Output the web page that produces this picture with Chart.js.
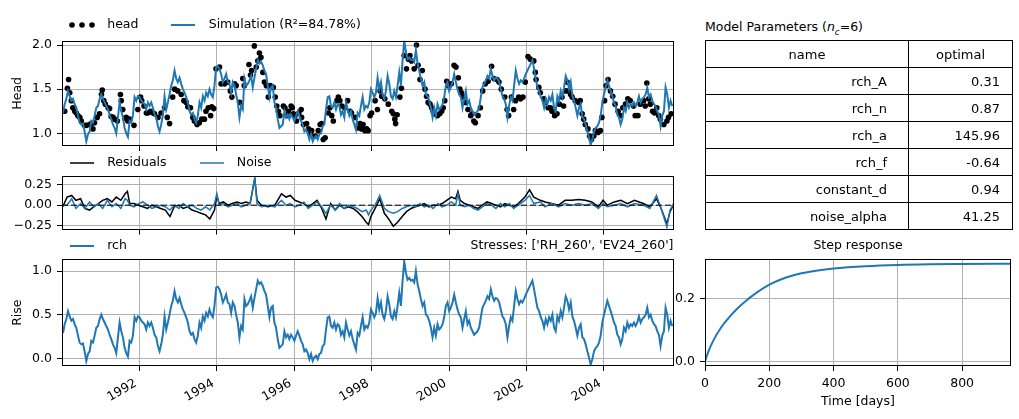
<!DOCTYPE html>
<html>
<head>
<meta charset="utf-8">
<script src="https://cdn.jsdelivr.net/npm/chart.js@4.4.1/dist/chart.umd.min.js"></script>
<style>
    body { margin: 0; background: #fff; }
    #fig { position: relative; width: 1019px; height: 419px; overflow: hidden; font-family: 'DejaVu Sans', sans-serif; color: #000; }
    #fig canvas { position: absolute; }
    #paramTitle { position: absolute; left: 705px; top: 19px; font-size: 12.5px; line-height: 16px; white-space: nowrap; }
    #paramTitle sub { font-size: 70%; line-height: 0; }
    #paramTable { position: absolute; left: 705px; top: 40px; width: 307px; border-collapse: collapse; table-layout: fixed; font-size: 13px; }
    #paramTable td { border: 1px solid #000; height: 26px; padding: 0; text-align: right; }
    #paramTable td.c1 { padding-right: 21px; }
    #paramTable td.c2 { padding-right: 12px; }
    #paramTable tr.hdr td { text-align: center; padding-right: 0; }
</style>
</head>
<body>
<div id="fig">
    <canvas id="headChart" width="700" height="165" style="left:0;top:0"></canvas>
    <canvas id="resChart" width="700" height="105" style="left:0;top:140px"></canvas>
    <canvas id="rchChart" width="700" height="194" style="left:0;top:225px"></canvas>
    <canvas id="stepChart" width="364" height="194" style="left:655px;top:225px"></canvas>
    <div id="paramTitle">Model Parameters (<i>n</i><sub><i>c</i></sub>=6)</div>
    <table id="paramTable">
        <colgroup><col style="width:203px"><col style="width:104px"></colgroup>
        <tbody id="paramBody"></tbody>
    </table>
</div>
<script>
// ---- data ----
const xMin = 1990.0;
const xMax = 2005.8;
const yearTicks = [1992, 1994, 1996, 1998, 2000, 2002, 2004];

// observed heads
const headYears = [
    1990.07, 1990.14, 1990.17, 1990.20, 1990.24, 1990.28, 1990.33, 1990.37, 1990.41, 1990.46,
    1990.50, 1990.58, 1990.63, 1990.71, 1990.76, 1990.80, 1990.84, 1990.91, 1990.97, 1991.02,
    1991.04, 1991.08, 1991.12, 1991.19, 1991.23, 1991.27, 1991.32, 1991.36, 1991.43, 1991.51,
    1991.53, 1991.57, 1991.62, 1991.66, 1991.70, 1991.75, 1991.86, 1991.96, 1992.03, 1992.06,
    1992.12, 1992.18, 1992.22, 1992.29, 1992.35, 1992.39, 1992.48, 1992.56, 1992.65, 1992.72,
    1992.78, 1992.86, 1992.91, 1992.99, 1993.08, 1993.15, 1993.21, 1993.25, 1993.32, 1993.38,
    1993.42, 1993.49, 1993.55, 1993.61, 1993.68, 1993.72, 1993.78, 1993.84, 1993.87, 1993.92,
    1993.98, 1994.07, 1994.11, 1994.20, 1994.28, 1994.35, 1994.39, 1994.46, 1994.50, 1994.59,
    1994.67, 1994.71, 1994.83, 1994.87, 1994.90, 1994.97, 1995.02, 1995.06, 1995.10, 1995.14,
    1995.19, 1995.23, 1995.28,
    1995.33, 1995.38, 1995.46, 1995.51, 1995.55, 1995.59, 1995.63, 1995.72, 1995.76, 1995.81,
    1995.85, 1995.92, 1995.95, 1995.98, 1996.02, 1996.06, 1996.12, 1996.18, 1996.19, 1996.24,
    1996.32, 1996.37, 1996.41, 1996.45, 1996.54, 1996.62, 1996.67, 1996.71, 1996.75, 1996.80,
    1996.88, 1996.92, 1996.97, 1997.01, 1997.10, 1997.14, 1997.18, 1997.23, 1997.31, 1997.38,
    1997.44, 1997.48, 1997.57, 1997.66, 1997.70, 1997.74, 1997.78, 1997.83, 1997.87, 1997.91,
    1997.96, 1998.00, 1998.09, 1998.15, 1998.22, 1998.26, 1998.34, 1998.43, 1998.52, 1998.56,
    1998.60, 1998.62, 1998.66, 1998.73, 1998.77, 1998.84, 1998.90, 1998.95, 1998.99, 1999.03,
    1999.10, 1999.16, 1999.20, 1999.25, 1999.31, 1999.38, 1999.42, 1999.46, 1999.51, 1999.55,
    1999.59, 1999.63, 1999.70, 1999.76, 1999.81, 1999.85, 1999.89, 1999.94, 1999.98, 2000.06,
    2000.13, 2000.18, 2000.24, 2000.28, 2000.32, 2000.37, 2000.43, 2000.49, 2000.56,
    2000.60, 2000.64, 2000.68, 2000.75, 2000.81, 2000.87, 2000.94, 2001.01, 2001.10, 2001.16,
    2001.24, 2001.29, 2001.35, 2001.44, 2001.50, 2001.54, 2001.61, 2001.67, 2001.72, 2001.80,
    2001.85, 2001.91, 2001.97, 2002.04, 2002.10, 2002.19, 2002.23, 2002.25, 2002.32, 2002.36,
    2002.45, 2002.49, 2002.56, 2002.62, 2002.66, 2002.73, 2002.79, 2002.85, 2002.92, 2002.96,
    2003.01, 2003.05, 2003.09, 2003.14, 2003.18, 2003.26, 2003.35, 2003.39, 2003.44, 2003.48,
    2003.52, 2003.59, 2003.63, 2003.68, 2003.74, 2003.78, 2003.85, 2003.91, 2003.95, 2004.02,
    2004.06, 2004.11, 2004.17, 2004.23, 2004.29, 2004.37, 2004.43, 2004.49, 2004.56, 2004.62,
    2004.68, 2004.77, 2004.81, 2004.88, 2004.94, 2005.03, 2005.07, 2005.11, 2005.16, 2005.20,
    2005.26, 2005.31, 2005.37, 2005.42, 2005.46, 2005.55, 2005.63, 2005.67, 2005.74, 2005.78
];
const headValues = [
    1.25, 1.51, 1.61, 1.46, 1.37, 1.29, 1.25, 1.23, 1.20, 1.18,
    1.14, 1.09, 1.09, 1.10, 1.11, 1.05, 1.12, 1.18, 1.22, 1.44,
    1.49, 1.37, 1.33, 1.29, 1.28, 1.19, 1.18, 1.16, 1.14, 1.44,
    1.37, 1.27, 1.17, 1.18, 1.14, 1.16, 1.09, 1.27, 1.41, 1.37,
    1.31, 1.23, 1.23, 1.25, 1.23, 1.22, 1.18, 1.23, 1.29, 1.18,
    1.11, 1.41, 1.50, 1.48, 1.44, 1.37, 1.35, 1.30, 1.29, 1.18,
    1.14, 1.10, 1.12, 1.16, 1.16, 1.25, 1.29, 1.20, 1.30, 1.28,
    1.73, 1.75, 1.56, 1.56, 1.58, 1.48, 1.41, 1.56, 1.54, 1.35,
    1.62, 1.54, 1.78, 1.66, 1.71, 1.99, 1.75, 1.82, 1.91, 1.86,
    1.69, 1.58, 1.54,
    1.41, 1.54, 1.52, 1.41, 1.31, 1.25, 1.20, 1.31, 1.29, 1.20,
    1.25, 1.31, 1.29, 1.22, 1.20, 1.14, 1.23, 1.27, 1.18, 1.10,
    1.11, 1.05, 0.99, 1.03, 0.97, 1.03, 1.10, 1.11, 0.93, 0.95,
    1.23, 1.29, 1.20, 1.14, 1.37, 1.41, 1.37, 1.31, 1.29, 1.37,
    1.25, 1.23, 1.18, 1.06, 1.11, 1.05, 1.10, 1.03, 1.05, 1.03,
    1.20, 1.23, 1.37, 1.27, 1.48, 1.42, 1.39, 1.33, 1.25, 1.22,
    1.16, 1.11, 1.21, 1.41, 1.51, 1.88, 1.73, 1.84, 1.88, 1.82,
    1.73, 2.00, 1.77, 1.61, 1.71, 1.50, 1.42, 1.35, 1.33, 1.29,
    1.25, 1.22, 1.20, 1.22, 1.25, 1.29, 1.37, 1.59, 1.54, 1.56,
    1.77, 1.75, 1.63, 1.50, 1.46, 1.41, 1.35, 1.27, 1.20,
    1.22, 1.14, 1.12, 1.20, 1.29, 1.48, 1.56, 1.59, 1.76, 1.62,
    1.61, 1.58, 1.50, 1.41, 1.27, 1.20, 1.41, 1.27, 1.37, 1.41,
    1.39, 1.41, 1.58, 1.87, 1.84, 1.82, 1.69, 1.61, 1.52, 1.46,
    1.39, 1.35, 1.29, 1.29, 1.25, 1.20, 1.22, 1.33, 1.41, 1.31,
    1.48, 1.58, 1.48, 1.44, 1.41, 1.37, 1.35, 1.37, 1.22, 1.16,
    1.10, 1.05, 0.97, 0.93, 0.97, 1.03, 1.01, 1.03, 1.18, 1.37,
    1.54, 1.61, 1.48, 1.42, 1.33, 1.25, 1.20, 1.29, 1.33, 1.39,
    1.37, 1.31, 1.20, 1.20, 1.33, 1.37, 1.31, 1.57, 1.39, 1.33,
    1.25, 1.23, 1.29, 1.20, 1.16, 1.10, 1.14, 1.18, 1.22
];

// simulated series share one regular time index (about 15.7 days)
const simStart = 1990.026;
const simStep = 0.04301;

const simValues = [
    1.23, 1.33, 1.39, 1.48, 1.42, 1.37, 1.39, 1.33, 1.29, 1.20,
    1.12, 1.10, 1.11, 1.02, 0.91, 0.99, 1.02, 1.14, 1.12, 1.20,
    1.29, 1.31, 1.39, 1.44, 1.39, 1.35, 1.31, 1.27, 1.21, 1.16,
    1.10, 1.06, 1.00, 1.18, 1.35, 1.25, 1.18, 1.06, 1.00, 0.96,
    1.14, 1.12, 1.20, 1.41, 1.37, 1.42, 1.41, 1.37, 1.35, 1.33,
    1.27, 1.35, 1.31, 1.35, 1.29, 1.21, 1.18, 1.08, 1.02, 1.10,
    1.21, 1.42, 1.27, 1.35, 1.44, 1.54, 1.60, 1.71, 1.62, 1.58,
    1.63, 1.56, 1.50, 1.46, 1.41, 1.35, 1.25, 1.21, 1.23, 1.16,
    1.12, 1.20, 1.35, 1.29, 1.42, 1.37, 1.46, 1.42, 1.50, 1.44,
    1.41, 1.54, 1.75, 1.76, 1.73, 1.67, 1.58, 1.62, 1.67, 1.58,
    1.56, 1.46, 1.58, 1.54, 1.44, 1.35, 1.18, 1.31, 1.27, 1.62,
    1.54, 1.56, 1.60, 1.65, 1.52, 1.63, 1.73, 1.83, 1.79, 1.81,
    1.77, 1.71, 1.67, 1.54, 1.41, 1.52, 1.54, 1.35, 1.29, 1.16,
    1.06, 1.08, 1.10, 1.25, 1.18, 1.21, 1.16, 1.21, 1.18, 1.14,
    1.20, 1.25, 1.20, 1.14, 1.10, 1.02, 1.04, 1.00, 0.93, 0.99,
    0.91, 0.95, 0.97, 0.93, 0.99, 1.00, 1.08, 1.10, 1.27, 1.41,
    1.42, 1.31, 1.29, 1.35, 1.27, 1.33, 1.31, 1.21, 1.25, 1.18,
    1.35, 1.27, 1.20, 1.25, 1.16, 1.10, 1.04, 1.23, 1.20, 1.31,
    1.41, 1.27, 1.31, 1.29, 1.35, 1.50, 1.46, 1.41, 1.46, 1.63,
    1.50, 1.58, 1.44, 1.39, 1.48, 1.65, 1.56, 1.42, 1.39, 1.48,
    1.41, 1.54, 1.69, 1.54, 1.83, 2.05, 1.92, 1.84, 1.86, 1.83,
    1.84, 1.81, 1.94, 1.79, 1.71, 1.62, 1.54, 1.58, 1.44, 1.42,
    1.37, 1.29, 1.18, 1.29, 1.20, 1.33, 1.27, 1.29, 1.33, 1.41,
    1.54, 1.58, 1.48, 1.52, 1.58, 1.67, 1.58, 1.50, 1.44, 1.41,
    1.29, 1.39,
    1.48, 1.33, 1.37, 1.29, 1.25, 1.21, 1.23, 1.25, 1.29, 1.41,
    1.52, 1.56, 1.60, 1.65, 1.62, 1.73, 1.65, 1.60, 1.63, 1.62,
    1.58, 1.50, 1.42, 1.39, 1.33, 1.18, 1.31, 1.41, 1.37, 1.54,
    1.71, 1.62, 1.56, 1.60, 1.58, 1.62, 1.67, 1.71, 1.75, 1.79,
    1.83, 1.73, 1.62, 1.52, 1.48, 1.41, 1.37, 1.29, 1.39, 1.33,
    1.41, 1.37, 1.44, 1.29, 1.25, 1.42, 1.37, 1.48, 1.41, 1.52,
    1.65, 1.60, 1.50, 1.58, 1.42, 1.37, 1.29, 1.20, 1.29, 1.33,
    1.18, 1.16, 1.10, 1.02, 0.95, 0.87, 0.93, 1.02, 1.06, 1.08,
    1.12, 1.20, 1.35, 1.44, 1.52, 1.60, 1.54, 1.48, 1.42, 1.35,
    1.31, 1.21, 1.18, 1.10, 1.16, 1.29, 1.25, 1.35, 1.29, 1.33,
    1.31, 1.35, 1.31, 1.35, 1.42, 1.35, 1.39, 1.41, 1.44, 1.52,
    1.41, 1.44, 1.37, 1.33, 1.31, 1.25, 1.21, 1.08, 1.20, 1.25,
    1.52, 1.44, 1.29, 1.37, 1.31
];

// recharge contribution (Rise)
const rchValues = [
    0.29, 0.39, 0.45, 0.54, 0.48, 0.43, 0.45, 0.39, 0.35, 0.26,
    0.18, 0.16, 0.17, 0.08, -0.03, 0.05, 0.08, 0.20, 0.18, 0.26,
    0.35, 0.37, 0.45, 0.50, 0.45, 0.41, 0.37, 0.33, 0.27, 0.22,
    0.16, 0.12, 0.06, 0.24, 0.41, 0.31, 0.24, 0.12, 0.06, 0.02,
    0.20, 0.18, 0.26, 0.47, 0.43, 0.48, 0.47, 0.43, 0.41, 0.39,
    0.33, 0.41, 0.37, 0.41, 0.35, 0.27, 0.24, 0.14, 0.08, 0.16,
    0.27, 0.48, 0.33, 0.41, 0.50, 0.60, 0.66, 0.77, 0.68, 0.64,
    0.69, 0.62, 0.56, 0.52, 0.47, 0.41, 0.31, 0.27, 0.29, 0.22,
    0.18, 0.26, 0.41, 0.35, 0.48, 0.43, 0.52, 0.48, 0.56, 0.50,
    0.47, 0.60, 0.81, 0.82, 0.79, 0.73, 0.64, 0.68, 0.73, 0.64,
    0.62, 0.52, 0.64, 0.60, 0.50, 0.41, 0.24, 0.37, 0.33, 0.68,
    0.60, 0.62, 0.66, 0.71, 0.58, 0.69, 0.79, 0.89, 0.85, 0.87,
    0.83, 0.77, 0.73, 0.60, 0.47, 0.58, 0.60, 0.41, 0.35, 0.22,
    0.12, 0.14, 0.16, 0.31, 0.24, 0.27, 0.22, 0.27, 0.24, 0.20,
    0.26, 0.31, 0.26, 0.20, 0.16, 0.08, 0.10, 0.06, -0.01, 0.05,
    -0.03, 0.01, 0.03, -0.01, 0.05, 0.06, 0.14, 0.16, 0.33, 0.47,
    0.48, 0.37, 0.35, 0.41, 0.33, 0.39, 0.37, 0.27, 0.31, 0.24,
    0.41, 0.33, 0.26, 0.31, 0.22, 0.16, 0.10, 0.29, 0.26, 0.37,
    0.47, 0.33, 0.37, 0.35, 0.41, 0.56, 0.52, 0.47, 0.52, 0.69,
    0.56, 0.64, 0.50, 0.45, 0.54, 0.71, 0.62, 0.48, 0.45, 0.54,
    0.47, 0.60, 0.75, 0.60, 0.89, 1.11, 0.98, 0.90, 0.92, 0.89,
    0.90, 0.87, 1.00, 0.85, 0.77, 0.68, 0.60, 0.64, 0.50, 0.48,
    0.43, 0.35, 0.24, 0.35, 0.26, 0.39, 0.33, 0.35, 0.39, 0.47,
    0.60, 0.64, 0.54, 0.58, 0.64, 0.73, 0.64, 0.56, 0.50, 0.47,
    0.35, 0.45,
    0.54, 0.39, 0.43, 0.35, 0.31, 0.27, 0.29, 0.31, 0.35, 0.47,
    0.58, 0.62, 0.66, 0.71, 0.68, 0.79, 0.71, 0.66, 0.69, 0.68,
    0.64, 0.56, 0.48, 0.45, 0.39, 0.24, 0.37, 0.47, 0.43, 0.60,
    0.77, 0.68, 0.62, 0.66, 0.64, 0.68, 0.73, 0.77, 0.81, 0.85,
    0.89, 0.79, 0.68, 0.58, 0.54, 0.47, 0.43, 0.35, 0.45, 0.39,
    0.47, 0.43, 0.50, 0.35, 0.31, 0.48, 0.43, 0.54, 0.47, 0.58,
    0.71, 0.66, 0.56, 0.64, 0.48, 0.43, 0.35, 0.26, 0.35, 0.39,
    0.24, 0.22, 0.16, 0.08, 0.01, -0.07, -0.01, 0.08, 0.12, 0.14,
    0.18, 0.26, 0.41, 0.50, 0.58, 0.66, 0.60, 0.54, 0.48, 0.41,
    0.37, 0.27, 0.24, 0.16, 0.22, 0.35, 0.31, 0.41, 0.35, 0.39,
    0.37, 0.41, 0.37, 0.41, 0.48, 0.41, 0.45, 0.47, 0.50, 0.58,
    0.47, 0.50, 0.43, 0.39, 0.37, 0.31, 0.27, 0.14, 0.26, 0.31,
    0.58, 0.50, 0.35, 0.43, 0.37
];

// residuals and noise
const resYears = [
    1990.02, 1990.13, 1990.25, 1990.36, 1990.48, 1990.59, 1990.71, 1990.82, 1990.94, 1991.05,
    1991.17, 1991.29, 1991.40, 1991.52, 1991.63, 1991.69, 1991.75, 1991.86, 1991.98, 1992.09,
    1992.21, 1992.32, 1992.44, 1992.55, 1992.67, 1992.79, 1992.90, 1993.02, 1993.13, 1993.25,
    1993.36, 1993.48, 1993.59, 1993.71, 1993.82, 1993.94, 1994.00, 1994.06, 1994.17, 1994.29,
    1994.40, 1994.52, 1994.63, 1994.75, 1994.86, 1994.98, 1995.04, 1995.15, 1995.32, 1995.50,
    1995.67, 1995.79, 1995.90, 1996.02, 1996.13, 1996.25, 1996.36, 1996.48, 1996.59, 1996.71,
    1996.82, 1996.94, 1997.06, 1997.17, 1997.29, 1997.40, 1997.52, 1997.63, 1997.75, 1997.86,
    1997.92, 1997.98, 1998.09, 1998.21, 1998.33, 1998.44, 1998.56, 1998.67, 1998.79, 1998.90,
    1999.02, 1999.13, 1999.25, 1999.36, 1999.48, 1999.59, 1999.71, 1999.82, 1999.94, 2000.06,
    2000.17, 2000.23, 2000.29, 2000.40, 2000.52, 2000.63, 2000.75, 2000.86, 2000.98, 2001.10,
    2001.21, 2001.33, 2001.44, 2001.56, 2001.67, 2001.79, 2001.96, 2002.08, 2002.19, 2002.36,
    2002.48, 2002.65, 2002.83, 2003.00, 2003.17, 2003.35, 2003.52, 2003.69, 2003.86, 2003.98,
    2004.09, 2004.27, 2004.44, 2004.61, 2004.79, 2005.02, 2005.19, 2005.36, 2005.48, 2005.63,
    2005.71, 2005.80
];
const residualValues = [
    -0.02, 0.10, 0.12, 0.06, 0.08, -0.04, -0.06, -0.02, 0.02, 0.06,
    0.08, 0.04, 0.10, 0.06, 0.14, 0.17, 0.02, 0.02, 0.00, -0.02,
    -0.04, 0.00, -0.02, -0.04, -0.06, -0.14, -0.02, 0.00, -0.04, -0.02,
    -0.06, -0.08, -0.10, -0.12, -0.17, -0.06, 0.12, 0.02, 0.04, 0.00,
    0.02, 0.04, 0.02, 0.04, 0.02, 0.33, 0.06, 0.00, -0.02, 0.00,
    0.14, 0.10, 0.12, 0.06, 0.04, 0.02, -0.02, 0.02, 0.06, -0.04,
    -0.17, 0.02, -0.06, 0.00, -0.04, -0.02, -0.04, -0.08, -0.14, -0.21,
    -0.24, -0.14, -0.04, 0.08, -0.10, -0.17, -0.26, -0.21, -0.14, -0.08,
    -0.04, -0.02, 0.00, 0.02, -0.02, 0.00, 0.00, 0.02, 0.06, 0.10,
    0.08, 0.17, 0.06, 0.02, 0.00, -0.02, -0.04, 0.00, 0.04, 0.02,
    0.00, -0.02, 0.02, 0.00, -0.02, 0.02, 0.10, 0.19, 0.10, 0.06,
    0.04, 0.02, 0.00, 0.06, 0.06, 0.07, 0.06, 0.04, -0.02, 0.06,
    0.00, 0.04, 0.06, 0.02, 0.06, 0.02, -0.02, 0.08, -0.04, -0.23,
    -0.08, 0.00
];
const noiseValues = [
    0.00, 0.00, 0.08, -0.04, 0.02, -0.04, 0.04, -0.02, 0.02, -0.04,
    0.06, -0.02, 0.02, -0.04, 0.08, 0.06, 0.00, -0.02, 0.02, 0.04,
    0.00, -0.04, -0.02, 0.00, -0.02, -0.06, 0.00, -0.04, 0.02, -0.02,
    0.00, -0.04, -0.06, -0.02, -0.06, 0.02, 0.14, 0.00, 0.02, -0.02,
    0.00, 0.02, -0.02, 0.00, 0.02, 0.33, 0.02, -0.02, 0.00, -0.02,
    0.06, 0.00, 0.02, -0.02, 0.00, 0.04, -0.04, 0.00, 0.04, -0.02,
    -0.10, 0.00, -0.06, 0.02, -0.04, 0.00, -0.02, -0.04, -0.08, -0.06,
    -0.12, -0.06, 0.00, 0.12, -0.04, -0.08, -0.10, -0.08, -0.04, -0.02,
    0.00, -0.02, 0.02, -0.02, 0.00, -0.04, 0.02, -0.02, 0.00, 0.04,
    0.00, 0.14, 0.00, -0.02, 0.00, -0.04, -0.06, -0.02, 0.02, 0.00,
    -0.04, 0.02, -0.02, 0.02, -0.04, 0.00, 0.06, 0.12, 0.02, 0.04,
    -0.02, 0.02, -0.02, 0.02, 0.00, 0.02, 0.00, 0.02, -0.04, 0.02,
    -0.02, 0.00, 0.02, -0.02, 0.02, 0.00, -0.04, 0.12, -0.04, -0.27,
    -0.06, 0.02
];

// step response of rch
const stepDays = [0, 10, 25, 50, 75, 100, 125, 150, 200, 250, 300, 350, 400, 500, 600, 700, 800, 952];
const stepValues = [0, 0.031, 0.065, 0.108, 0.14, 0.167, 0.19, 0.21, 0.243, 0.265, 0.279, 0.288, 0.294, 0.301, 0.305, 0.307, 0.308, 0.309];

// parameter table
const paramNames = ['rch_A', 'rch_n', 'rch_a', 'rch_f', 'constant_d', 'noise_alpha'];
const paramOptimal = ['0.31', '0.87', '145.96', '-0.64', '0.94', '41.25'];

// ---- styling ----
const BLUE = '#1f77b4';
const GRID = '#b0b0b0';
const FONT = 12.5;

Chart.defaults.font.family = "'DejaVu Sans', sans-serif";
Chart.defaults.font.size = FONT;
Chart.defaults.color = '#000';
Chart.defaults.animation = false;
Chart.defaults.responsive = false;
Chart.defaults.events = [];
Chart.defaults.plugins.tooltip.enabled = false;

const gridOpts = { color: GRID, lineWidth: 1, tickColor: '#000', tickLength: 5, tickWidth: 1 };

function xy(xs, ys) {
    return xs.map((x, i) => ({ x: x, y: ys[i] }));
}

function fmtTick(v, decimals) {
    return (v < 0 ? '\u2212' : '') + Math.abs(v).toFixed(decimals);
}

// small legend handles
function lineIcon(color, width) {
    const c = document.createElement('canvas');
    c.width = 24; c.height = 6;
    const g = c.getContext('2d');
    g.strokeStyle = color; g.lineWidth = width;
    g.beginPath(); g.moveTo(0, 3); g.lineTo(24, 3); g.stroke();
    return c;
}

function dotsIcon() {
    const c = document.createElement('canvas');
    c.width = 30; c.height = 8;
    const g = c.getContext('2d');
    g.fillStyle = '#000';
    [5, 15, 25].forEach(x => { g.beginPath(); g.arc(x, 4, 2.8, 0, Math.PI * 2); g.fill(); });
    return c;
}

function legendOptions(items) {
    return {
        display: true,
        position: 'top',
        align: 'start',
        maxHeight: 1,
        labels: {
            usePointStyle: true,
            pointStyleWidth: 38,
            padding: 26,
            color: '#000',
            font: { size: FONT },
            generateLabels: () => items.map(it => ({
                text: it.text,
                pointStyle: it.icon,
                fontColor: '#000',
                fillStyle: 'rgba(0,0,0,0)',
                strokeStyle: 'rgba(0,0,0,0)',
                lineWidth: 0,
                hidden: false
            }))
        }
    };
}

function yearAxis(showLabels) {
    return {
        type: 'linear',
        min: xMin,
        max: xMax,
        afterBuildTicks: s => { s.ticks = yearTicks.map(v => ({ value: v })); },
        afterFit: s => { s.height = showLabels ? 45 : 5; },
        grid: gridOpts,
        border: { display: false },
        ticks: {
            display: showLabels,
            autoSkip: false,
            minRotation: 30,
            maxRotation: 30,
            padding: 5,
            labelOffset: -3.6,
            callback: v => String(v)
        }
    };
}

function valueAxis(min, max, step, decimals, width, title) {
    return {
        min: min,
        max: max,
        afterFit: s => { s.width = width; },
        grid: gridOpts,
        border: { display: false },
        ticks: { stepSize: step, includeBounds: false, padding: 5, callback: v => fmtTick(v, decimals) },
        title: { display: !!title, text: title || '', padding: { top: 10.5, bottom: 0 } }
    };
}

// black frame around each axes (matplotlib spines)
const framePlugin = {
    id: 'frame',
    afterDatasetsDraw(chart) {
        const { ctx, chartArea: a } = chart;
        ctx.save();
        ctx.strokeStyle = '#000';
        ctx.lineWidth = 1;
        ctx.strokeRect(Math.round(a.left) + 0.5, Math.round(a.top) + 0.5, Math.round(a.right - a.left) - 1, Math.round(a.bottom - a.top) - 1);
        ctx.restore();
    }
};

// put legend / title rows where matplotlib has them
function placeBoxes(spec) {
    return {
        id: 'placeBoxes',
        afterLayout(chart) {
            if (spec.legendX !== undefined && chart.legend) {
                const lg = chart.legend;
                const pad = lg.options.labels.padding;
                lg.left = spec.legendX - pad;
                lg.top = spec.legendY - pad - FONT / 2;
                lg.bottom = lg.top + pad + FONT + 20;
                lg.height = lg.bottom - lg.top;
                lg.width = lg.right - lg.left;
            }
            if (spec.titleY !== undefined && chart.titleBlock) {
                const t = chart.titleBlock;
                t.top = spec.titleY - 7.5;
                t.bottom = t.top + 15;
                t.height = 15;
            }
        }
    };
}

// ---- head + simulation ----
new Chart(document.getElementById('headChart'), {
    type: 'scatter',
    data: {
        datasets: [
            { label: 'Simulation', data: xy(simValues.map((_, i) => simStart + i * simStep), simValues), showLine: true, borderColor: BLUE, borderWidth: 2, pointRadius: 0, clip: 0 },
            { label: 'head', data: xy(headYears, headValues), pointRadius: 2.8, pointBackgroundColor: '#000', pointBorderWidth: 0, clip: 0 }
        ]
    },
    options: {
        layout: { padding: { left: 0, top: 39.7, right: 26.5, bottom: 14 } },
        scales: {
            x: yearAxis(false),
            y: valueAxis(0.856, 2.049, 0.5, 1, 62, 'Head')
        },
        plugins: {
            legend: legendOptions([
                { text: 'head', icon: dotsIcon() },
                { text: 'Simulation (R\u00b2=84.78%)', icon: lineIcon(BLUE, 2) }
            ])
        }
    },
    plugins: [framePlugin, placeBoxes({ legendX: 63, legendY: 25 })]
});

// ---- residuals + noise ----
new Chart(document.getElementById('resChart'), {
    type: 'scatter',
    data: {
        datasets: [
            { label: 'zero', data: [{ x: xMin, y: 0 }, { x: xMax, y: 0 }], showLine: true, borderColor: '#000', borderWidth: 1, borderDash: [6, 3], pointRadius: 0, clip: 0 },
            { label: 'Noise', data: xy(resYears, noiseValues), showLine: true, borderColor: BLUE, borderWidth: 1.5, pointRadius: 0, clip: 0 },
            { label: 'Residuals', data: xy(resYears, residualValues), showLine: true, borderColor: '#000', borderWidth: 1.5, pointRadius: 0, clip: 0 }
        ]
    },
    options: {
        layout: { padding: { left: 0, top: 35, right: 26.5, bottom: 10.5 } },
        scales: {
            x: yearAxis(false),
            y: valueAxis(-0.30, 0.36, 0.25, 2, 62, null)
        },
        plugins: {
            legend: legendOptions([
                { text: 'Residuals', icon: lineIcon('#000', 1.5) },
                { text: 'Noise', icon: lineIcon(BLUE, 1.5) }
            ])
        }
    },
    plugins: [framePlugin, placeBoxes({ legendX: 63, legendY: 23 })]
});

// ---- recharge contribution ----
new Chart(document.getElementById('rchChart'), {
    type: 'scatter',
    data: {
        datasets: [
            { label: 'rch', data: xy(rchValues.map((_, i) => simStart + i * simStep), rchValues), showLine: true, borderColor: BLUE, borderWidth: 2, pointRadius: 0, clip: 0 }
        ]
    },
    options: {
        layout: { padding: { left: 0, top: 18.3, right: 26.5, bottom: 8 } },
        scales: {
            x: yearAxis(true),
            y: valueAxis(-0.088, 1.134, 0.5, 1, 62, 'Rise')
        },
        plugins: {
            title: { display: true, text: "Stresses: ['RH_260', 'EV24_260']", align: 'end', fullSize: false, padding: 0, font: { size: FONT, weight: 'normal' }, color: '#000' },
            legend: legendOptions([{ text: 'rch', icon: lineIcon(BLUE, 2) }])
        }
    },
    plugins: [framePlugin, placeBoxes({ legendX: 63, legendY: 21, titleY: 21 })]
});

// ---- step response ----
new Chart(document.getElementById('stepChart'), {
    type: 'scatter',
    data: {
        datasets: [
            { label: 'step', data: xy(stepDays, stepValues), showLine: true, borderColor: BLUE, borderWidth: 2, pointRadius: 0, cubicInterpolationMode: 'monotone', clip: 0 }
        ]
    },
    options: {
        layout: { padding: { left: 0, top: 19.3, right: 8, bottom: 8 } },
        scales: {
            x: {
                min: 0,
                max: 952,
                afterFit: s => { s.height = 45; },
                grid: gridOpts,
                border: { display: false },
                ticks: { stepSize: 200, includeBounds: false, padding: 5 },
                title: { display: true, text: 'Time [days]', padding: { top: 0, bottom: 1.5 } }
            },
            y: valueAxis(-0.0136, 0.323, 0.2, 1, 50, null)
        },
        plugins: {
            legend: { display: false },
            title: { display: true, text: 'Step response', fullSize: false, padding: 0, font: { size: FONT, weight: 'normal' }, color: '#000' }
        }
    },
    plugins: [framePlugin, placeBoxes({ titleY: 21 })]
});

// ---- parameter table ----
const body = document.getElementById('paramBody');
body.innerHTML = '<tr class="hdr"><td class="c1">name</td><td class="c2">optimal</td></tr>' +
    paramNames.map((n, i) => `<tr><td class="c1">${n}</td><td class="c2">${paramOptimal[i]}</td></tr>`).join('');
</script>
</body>
</html>
